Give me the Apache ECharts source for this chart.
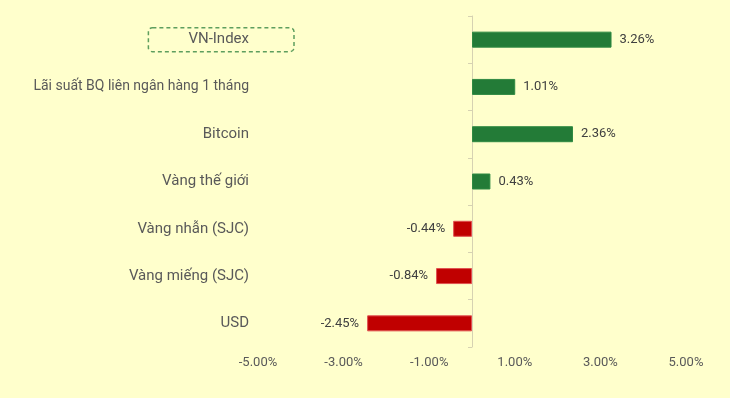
<!DOCTYPE html>
<html>
<head>
<meta charset="utf-8">
<script src="https://cdn.jsdelivr.net/npm/echarts@6/dist/echarts.min.js"></script>
<style>
  html, body { margin: 0; padding: 0; background: #ffffcc; }
  #chart { width: 730px; height: 398px; }
</style>
</head>
<body>
<div id="chart"></div>
<script>
// danh mục (trên xuống dưới) và % thay đổi
var categories = ['VN-Index', 'Lãi suất BQ liên ngân hàng 1 tháng', 'Bitcoin', 'Vàng thế giới', 'Vàng nhẫn (SJC)', 'Vàng miếng (SJC)', 'USD'];
var values = [3.26, 1.01, 2.36, 0.43, -0.44, -0.84, -2.45];
var xTicks = { min: -5, max: 5, interval: 2 };

var GREEN = '#237b37';
var RED = '#c00000';
var font = 'Roboto';

var barData = values.map(function (v) {
  return {
    value: v,
    itemStyle: {
      color: v >= 0 ? GREEN : RED,
      borderColor: v >= 0 ? '#2f8a42' : '#e05050',
      borderWidth: 1
    },
    label: { position: v >= 0 ? 'right' : 'left' }
  };
});

// nhãn dài hơi nhỏ hơn như bản gốc
var labelData = categories.map(function (c) {
  return c.length > 25 ? { value: c, textStyle: { fontSize: 14 } } : c;
});

var chart = echarts.init(document.getElementById('chart'));
chart.setOption({
  backgroundColor: '#ffffcc',
  animation: false,
  grid: { left: 258, right: 44, top: 16, bottom: 51, outerBoundsMode: 'none' },
  xAxis: {
    type: 'value',
    min: xTicks.min,
    max: xTicks.max,
    interval: xTicks.interval,
    axisLine: { show: false },
    axisTick: { show: false },
    splitLine: { show: false },
    axisLabel: {
      margin: 9,
      color: '#595959',
      fontSize: 13,
      fontFamily: font,
      formatter: function (v) { return v.toFixed(2) + '%'; }
    }
  },
  yAxis: [
    {
      // nhãn danh mục
      type: 'category',
      position: 'left',
      inverse: true,
      data: labelData,
      axisLine: { show: false, onZero: false },
      axisTick: { show: false },
      axisLabel: { margin: 9, color: '#595959', fontSize: 15, fontFamily: font }
    },
    {
      // trục dọc tại 0
      type: 'category',
      position: 'left',
      inverse: true,
      data: categories,
      axisLine: { show: true, onZero: true, lineStyle: { color: '#d6d2b2', width: 1 } },
      axisTick: { show: true, length: 4, lineStyle: { color: '#d6d2b2' } },
      axisLabel: { show: false }
    },
    {
      // khung nét đứt quanh VN-Index
      type: 'category',
      position: 'left',
      inverse: true,
      data: categories,
      axisLine: { show: false, onZero: false },
      axisTick: { show: false },
      axisLabel: {
        margin: -36,
        fontSize: 15,
        fontFamily: font,
        formatter: function (v, i) { return i === 0 ? '{b|' + v + '}' : ''; },
        rich: {
          b: {
            color: 'transparent',
            fontSize: 15,
            fontFamily: font,
            borderColor: '#5e9e5e',
            borderWidth: 1.5,
            borderType: [4, 3],
            borderRadius: 4,
            padding: [5, 45, 4, 40]
          }
        }
      }
    }
  ],
  series: [{
    type: 'bar',
    yAxisIndex: 0,
    barWidth: 16,
    data: barData,
    label: {
      show: true,
      distance: 8,
      color: '#404040',
      fontSize: 13,
      fontFamily: font,
      formatter: function (p) { return p.value.toFixed(2) + '%'; }
    }
  }]
});
</script>
</body>
</html>
